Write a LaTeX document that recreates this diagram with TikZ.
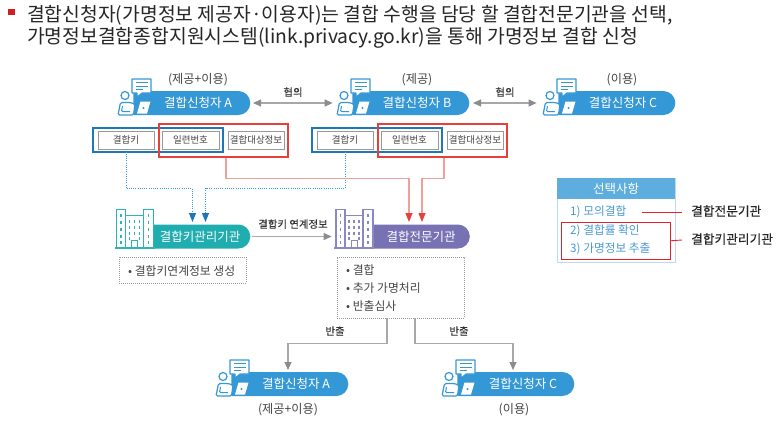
\documentclass[tikz,border=0pt]{standalone}
\usepackage{fontspec}
\setmainfont{Noto Sans CJK KR}
\newfontfamily\medfont[FakeBold=0.15]{Noto Sans CJK KR}
\usetikzlibrary{arrows.meta,shapes.misc,calc}
\definecolor{pillblue}{HTML}{3598D6}
\definecolor{tealc}{HTML}{2DB4B6}
\definecolor{tealp}{HTML}{1FADB0}
\definecolor{purp}{HTML}{7672B3}
\definecolor{purl}{HTML}{8B87C2}
\definecolor{boxblue}{HTML}{1F77B8}
\definecolor{dotblue}{HTML}{2E9BE0}
\definecolor{boxred}{HTML}{E5403A}
\definecolor{lred}{HTML}{F0A09A}
\definecolor{arrowgray}{HTML}{8C8C8C}
\definecolor{shaftgray}{HTML}{A8A8A8}
\definecolor{txt}{HTML}{444444}
\definecolor{paneltxt}{HTML}{4A9BD6}
\definecolor{purered}{HTML}{E8202A}
\tikzset{
  x=1pt,y=-1pt,
  pill/.style={rounded rectangle,rounded rectangle west arc=none,fill=#1,minimum height=24pt,inner sep=0pt,minimum width=117pt,anchor=east},
  pilltxt/.style={text=white,font=\fontsize{12.5}{14}\selectfont,inner sep=0pt},
  captxt/.style={text=txt,font=\fontsize{12.2}{14}\selectfont,inner sep=0pt},
  lab/.style={text=black!80,font=\medfont\fontsize{10.4}{12}\selectfont,inner sep=0pt},
  smallbox/.style={draw=black!40,line width=0.9pt,fill=white,text=txt,font=\fontsize{9.5}{11}\selectfont,inner sep=0pt,minimum height=18pt},
  bluebox/.style={draw=boxblue,line width=1.3pt,inner sep=0pt,minimum height=24pt,minimum width=130pt},
  redbox/.style={draw=boxred,line width=1.3pt,inner sep=0pt,minimum height=33pt,minimum width=129pt},
  dotbox/.style={draw=black!40,dash pattern=on 0.8pt off 1.2pt,line width=0.7pt,inner sep=0pt},
  graya/.style={draw=shaftgray,line width=1.1pt,-{Triangle[length=8pt,width=7pt,color=arrowgray]}},
  grayb/.style={draw=shaftgray,line width=1.2pt,{Triangle[length=8pt,width=7pt,color=arrowgray]}-{Triangle[length=8pt,width=7pt,color=arrowgray]}},
  bluea/.style={draw=dotblue,dash pattern=on 1pt off 1.2pt,line width=0.9pt,-{Triangle[length=9pt,width=7pt,color=boxblue]}},
  reda/.style={draw=lred,line width=1.1pt,-{Triangle[length=9pt,width=7pt,color=boxred]}},
  listt/.style={text=txt,font=\fontsize{11.8}{14}\selectfont,inner sep=0pt,anchor=west},
  ptxt/.style={text=paneltxt,font=\fontsize{11.7}{14}\selectfont,inner sep=0pt,anchor=west},
  rlab/.style={text=black!85,font=\medfont\fontsize{12.7}{14}\selectfont,inner sep=0pt,anchor=west},
  person/.pic={
    % bubble
    \draw[pillblue,line width=1.1pt,fill=white,line join=round] (15,-12) -- (34,-12) -- (34,2) -- (25,2) -- (20,6) -- (20,2) -- (15,2) -- cycle;
    \draw[pillblue,line width=1pt] (18.5,-8.5) -- (30.5,-8.5) (18.5,-5) -- (30.5,-5) (18.5,-1.5) -- (26,-1.5);
    % laptop
    \fill[white] (23.5,10.5) -- (33.5,10.5) -- (30,22.5) -- (20,22.5) -- cycle;
    \fill[pillblue] (26.5,17) circle (1.2);
    % person
    \draw[pillblue,line width=1.2pt,fill=white] (8,4.5) circle (4);
    \draw[pillblue,line width=1.2pt,fill=white,rounded corners=1.5pt] (1,24) -- (3.5,11.5) -- (13,11.5) -- (18,13) -- (16.5,24) -- cycle;
    \draw[pillblue,line width=1pt,rounded corners=1pt] (5.5,15) -- (4.5,20.5) -- (13,20.5);
  },
  pics/building/.style={code={
    \draw[#1,line width=1.2pt,fill=white] (11,-9) rectangle (29,23);
    \draw[#1,line width=1.2pt,fill=white] (2,-15) rectangle (11,23);
    \draw[#1,line width=1.2pt,fill=white] (29,-15) rectangle (39,23);
    \draw[#1,line width=1pt,fill=white] (17,16) rectangle (23,23);
    \draw[#1,line width=1.4pt] (0,23.4) -- (40,23.4);
    \foreach \yy in {-11,-4,3,10,16}{
      \draw[#1,line width=1.3pt] (6.5,\yy) -- ++(0,3.5) (34,\yy) -- ++(0,3.5);
    }
    \foreach \yy in {-5,1,7}{
      \foreach \xx in {15,20,25}{ \draw[#1,line width=1.3pt] (\xx,\yy) -- ++(0,3); }
    }
    \draw[#1,line width=1.3pt] (15,12) -- ++(0,3) (25,12) -- ++(0,3);
  }},
}
\begin{document}
\begin{tikzpicture}
\useasboundingbox (0,0) rectangle (777,432);
\fill[white] (0,0) rectangle (777,432);
% title
\fill[purered!90!black] (8,9) rectangle (15,15);
\node[anchor=west,inner sep=0pt,text=black!85,font=\fontsize{19.3}{22}\selectfont] (t1) at (27,15) {결합신청자(가명정보 제공자·이용자)는 결합 수행을 담당 할 결합전문기관을 선택,};
\node[anchor=west,inner sep=0pt,text=black!85,font=\fontsize{19.3}{22}\selectfont] (t2) at (27,38) {가명정보결합종합지원시스템(link.privacy.go.kr)을 통해 가명정보 결합 신청};
% top pills
\node[pill=pillblue] (pA) at (250.5,103) {};
\node[pill=pillblue] (pB) at (469.5,103) {};
\node[pill=pillblue] (pC) at (675.5,103) {};
\pic at (117,91) {person};
\pic at (336,91) {person};
\pic at (542,91) {person};
\node[pilltxt] (tA) at (198,103) {결합신청자 A};
\node[pilltxt] (tB) at (417,103) {결합신청자 B};
\node[pilltxt] (tC) at (623,103) {결합신청자 C};
\node[captxt] (cA) at (198,80) {(제공+이용)};
\node[captxt] (cB) at (417,80) {(제공)};
\node[captxt] (cC) at (622,80) {(이용)};
\draw[grayb] (pA.east) ++(2.5,0) -- ($(pB.west)+(-19.5,0)$);
\draw[grayb] (pB.east) ++(3.5,0) -- ($(pC.west)+(-21.5,0)$);
\node[lab] (h1) at (293,92) {협의};
\node[lab] (h2) at (505,92) {협의};
% small boxes A
\node[smallbox,minimum width=56pt] (kA) at (126,140) {결합키};
\node[smallbox,minimum width=57pt] (sA) at (190.5,140) {일련번호};
\node[smallbox,minimum width=56pt] (dA) at (256,140) {결합대상정보};
\node[bluebox] (bbA) at (158,140) {};
\node[redbox] (rbA) at (223.5,140.5) {};
% small boxes B
\node[smallbox,minimum width=56pt] (kB) at (345,140) {결합키};
\node[smallbox,minimum width=57pt] (sB) at (409.5,140) {일련번호};
\node[smallbox,minimum width=56pt] (dB) at (475,140) {결합대상정보};
\node[bluebox] (bbB) at (377,140) {};
\node[redbox] (rbB) at (442.5,140.5) {};
% building pills
\node[pill=tealp,minimum width=100pt] (pK) at (250.5,236.5) {};
\node[pill=purp,minimum width=100pt] (pE) at (470,236.5) {};
\pic at (114.5,224.5) {building=tealc};
\pic at (334,224.5) {building=purl};
\node[pilltxt] (tK) at (200,237) {결합키관리기관};
\node[pilltxt] (tE) at (421,237) {결합전문기관};
% connectors to buildings
\coordinate (bt1) at (192.5,222);
\coordinate (bt2) at (205.5,222);
\coordinate (rt1) at (409,222);
\coordinate (rt2) at (422,222);
\draw[bluea] (kA.south) -- ++(0,39) -| (bt1);
\draw[bluea] (kB.south) -- ++(0,39) -| (bt2);
\draw[reda] ([xshift=2.5pt]rbA.south) -- ++(0,21) -| (rt1);
\draw[reda] ([xshift=1.5pt]rbB.south) -- ++(0,21) -| (rt2);
\draw[graya] (pK.east) ++(1,0) -- ($(pE.west)+(-38,0)$);
\node[lab] (lk) at (293,224) {결합키 연계정보};
% dotted lists
\node[dotbox,minimum width=127pt,minimum height=26pt] (dl1) at (182.5,270) {};
\node[dotbox,minimum width=127pt,minimum height=61pt] (dl2) at (400.5,287.5) {};
\node[listt] (i1) at (128,271) {• 결합키연계정보 생성};
\node[listt] (i2) at (346,270) {• 결합};
\node[listt] (i3) at (346,288) {• 추가 가명처리};
\node[listt] (i4) at (346,306) {• 반출심사};
% lower pills
\node[pill=pillblue] (pA2) at (348.5,384) {};
\node[pill=pillblue] (pC2) at (574.5,384) {};
\pic at (215,372) {person};
\pic at (441,372) {person};
\node[pilltxt] (tA2) at (296,384) {결합신청자 A};
\node[pilltxt] (tC2) at (523,384) {결합신청자 C};
\node[captxt] (cA2) at (288,410) {(제공+이용)};
\node[captxt] (cC2) at (514,410) {(이용)};
\coordinate (ot1) at (288,370);
\coordinate (ot2) at (513,370);
\draw[graya] ([xshift=-13.5pt]dl2.south) -- ++(0,25) -| (ot1);
\draw[graya] ([xshift=14.5pt]dl2.south) -- ++(0,25) -| (ot2);
\node[lab] (o1) at (335,331) {반출};
\node[lab] (o2) at (459,331) {반출};
% panel
\node[draw=pillblue!35,line width=0.8pt,fill=white,anchor=north west,minimum width=118pt,minimum height=84pt,inner sep=0pt] (panel) at (557,178) {};
\node[fill=pillblue!80,anchor=north west,minimum width=118pt,minimum height=21pt,inner sep=0pt,text=white,font=\fontsize{12.5}{14}\selectfont] (phead) at (557,178) {선택사항};
\node[ptxt] (p1) at (570,212) {1) 모의결합};
\node[ptxt] (p2) at (570,231) {2) 결합률 확인};
\node[ptxt] (p3) at (570,249) {3) 가명정보 추출};
\node[draw=purered,line width=1pt,anchor=north west,minimum width=109pt,minimum height=36.5pt,inner sep=0pt] (prb) at (561,222) {};
\node[rlab] (r1) at (691,211) {결합전문기관};
\node[rlab] (r2) at (691,239) {결합키관리기관};
\coordinate (l1) at (642,212);
\coordinate (l2) at (682,212);
\coordinate (l3) at (682,240);
\draw[purered,line width=0.9pt] (l1) -- (l2);
\draw[purered,line width=0.9pt] (prb.east) -- (l3);
\end{tikzpicture}
\end{document}
